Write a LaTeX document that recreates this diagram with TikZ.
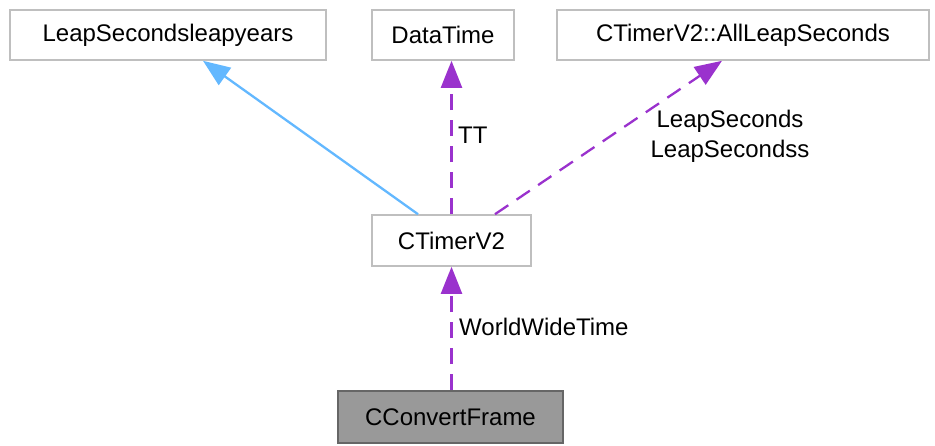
\documentclass[tikz,border=0pt]{standalone}
\usepackage{fontspec}
\setmainfont{Liberation Sans}
\usetikzlibrary{arrows.meta}
\definecolor{edgeblue}{HTML}{63B8FF}
\definecolor{edgepurple}{HTML}{9A32CD}
\definecolor{boxgray}{HTML}{BFBFBF}
\begin{document}
\begin{tikzpicture}[x=1pt,y=-1pt,
  every node/.style={font=\fontsize{24}{29}\selectfont, inner sep=0pt},
  classbox/.style={draw=boxgray, line width=1.6pt, fill=white, minimum height=50pt},
  mainbox/.style={draw=black!60, line width=1.6pt, fill=black!40, minimum height=52pt},
  inherit/.style={draw=edgeblue, line width=2.3pt, -{Triangle[length=27pt,width=21pt]}},
  usage/.style={draw=edgepurple, line width=2.3pt, dash pattern=on 16pt off 10pt, -{Triangle[length=27pt,width=21pt]}},
  edgelabel/.style={align=center, font=\fontsize{24}{30}\selectfont}]
\useasboundingbox (0,0) rectangle (935,445);
% class boxes
\node[classbox, minimum width=316pt] (lsly) at (168,35) {LeapSecondsleapyears};
\node[classbox, minimum width=142pt] (dt) at (443,35) {DataTime};
\node[classbox, minimum width=372pt] (all) at (743,35) {CTimerV2::AllLeapSeconds};
\node[classbox, minimum width=159pt, minimum height=51pt] (ctv) at (451.5,240.5) {CTimerV2};
\node[mainbox, minimum width=225pt] (ccf) at (450.5,417) {CConvertFrame};
% relations
\draw[inherit] ([xshift=-33.5pt]ctv.north) -- ([xshift=35pt]lsly.south);
\draw[usage] (ctv.north) -- (ctv.north |- dt.south);
\draw[usage] ([xshift=43.5pt]ctv.north) -- ([xshift=-21pt]all.south);
\draw[usage] (ccf.north -| ctv.south) -- (ctv.south);
% labels
\node[edgelabel, anchor=west] (lbltt) at (458,135) {TT};
\node[edgelabel] (lblls) at (730,136) {LeapSeconds\\LeapSecondss};
\node[edgelabel, anchor=west] (lblwwt) at (459,327) {WorldWideTime};
\end{tikzpicture}
\end{document}
